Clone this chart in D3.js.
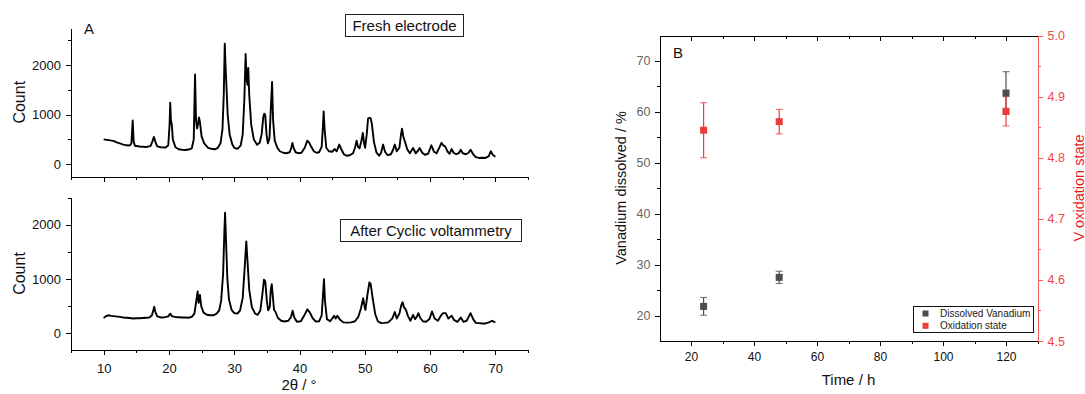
<!DOCTYPE html>
<html><head><meta charset="utf-8">
<script src="https://cdn.jsdelivr.net/npm/d3@7"></script>
<style>
html,body{margin:0;padding:0;background:#fff;}
svg{display:block;font-family:"Liberation Sans",Arial,sans-serif;}
.axis path,.axis line{shape-rendering:crispEdges;}
</style></head><body>
<svg id="c" width="1085" height="394"></svg>
<script>
// ---------- Panel A data: XRD patterns [2θ, count] ----------
const freshPattern = [
[10.0,500],[10.5,490],[11.0,480],[11.5,470],[12.0,440],[12.5,420],[13.0,395],[13.5,380],[14.0,375],[14.25,420],[14.45,880],[14.6,450],[14.8,370],[15.5,355],[16.0,350],[16.5,345],[17.2,370],[17.5,470],[17.7,550],[17.9,460],[18.2,360],[18.8,340],[19.5,335],[19.9,380],[20.1,800],[20.2,1240],[20.3,900],[20.45,780],[20.6,500],[21.0,340],[21.5,300],[22.0,290],[22.5,285],[23.0,295],[23.5,320],[23.8,500],[24.0,1810],[24.15,900],[24.3,720],[24.45,800],[24.6,945],[24.75,850],[25.0,560],[25.4,420],[26.0,330],[26.5,310],[27.0,300],[27.5,330],[27.9,420],[28.2,700],[28.4,1400],[28.55,2435],[28.7,1900],[28.85,1460],[29.0,1000],[29.3,600],[29.7,400],[30.0,330],[30.5,310],[31.0,380],[31.3,600],[31.55,1300],[31.75,2225],[31.9,1700],[32.05,1600],[32.15,1945],[32.3,1400],[32.6,800],[33.0,500],[33.5,390],[33.9,430],[34.2,600],[34.45,950],[34.6,1020],[34.75,990],[34.95,600],[35.15,420],[35.4,520],[35.6,1100],[35.8,1660],[35.95,900],[36.2,480],[36.6,330],[37.0,260],[37.5,230],[38.0,220],[38.5,240],[38.75,330],[38.9,430],[39.1,330],[39.4,240],[39.8,220],[40.3,230],[40.8,330],[41.2,475],[41.5,430],[41.8,350],[42.2,260],[42.6,230],[43.0,240],[43.4,350],[43.6,800],[43.7,1065],[43.85,700],[44.1,330],[44.5,260],[45.0,250],[45.4,305],[45.7,260],[46.1,395],[46.4,300],[46.8,200],[47.2,170],[47.7,180],[48.2,220],[48.5,330],[48.75,475],[48.95,350],[49.2,320],[49.5,480],[49.7,630],[49.9,420],[50.05,330],[50.3,600],[50.5,920],[50.7,935],[50.9,930],[51.1,800],[51.4,450],[51.8,230],[52.2,170],[52.5,230],[52.8,395],[53.1,250],[53.5,180],[54.0,200],[54.3,280],[54.6,395],[54.9,260],[55.3,330],[55.55,600],[55.7,715],[55.9,560],[56.2,430],[56.5,300],[56.9,220],[57.4,325],[57.8,220],[58.1,260],[58.4,325],[58.8,230],[59.2,190],[59.7,210],[60.2,380],[60.6,250],[61.0,220],[61.4,330],[61.75,430],[62.0,380],[62.3,360],[62.7,250],[63.0,210],[63.3,305],[63.6,230],[64.0,200],[64.4,220],[64.7,290],[65.0,220],[65.5,200],[65.9,230],[66.2,290],[66.6,200],[67.0,140],[67.5,125],[68.0,130],[68.5,125],[69.0,160],[69.3,260],[69.6,190],[70.0,150]
];
const afterCVPattern = [
[10.0,280],[10.3,310],[10.7,330],[11.2,320],[11.8,310],[12.5,300],[13.0,290],[13.5,285],[14.0,280],[14.5,270],[15.0,275],[15.5,275],[16.0,280],[16.5,285],[17.0,290],[17.4,330],[17.6,420],[17.75,490],[17.9,400],[18.2,310],[18.8,290],[19.4,295],[19.9,310],[20.2,360],[20.5,310],[21.0,300],[21.5,295],[22.0,290],[22.5,290],[23.0,285],[23.5,300],[23.9,360],[24.2,600],[24.4,770],[24.55,560],[24.75,705],[24.95,500],[25.3,380],[25.8,340],[26.3,330],[26.8,330],[27.3,360],[27.7,420],[28.0,600],[28.3,1100],[28.5,1900],[28.6,2220],[28.75,1700],[28.95,1000],[29.2,620],[29.6,430],[30.0,370],[30.5,360],[30.9,420],[31.3,650],[31.6,1200],[31.85,1690],[32.05,1300],[32.3,800],[32.7,480],[33.2,360],[33.6,340],[34.0,420],[34.3,700],[34.55,985],[34.75,960],[35.0,600],[35.2,420],[35.45,480],[35.6,800],[35.75,905],[35.9,700],[36.1,430],[36.3,400],[36.7,280],[37.2,230],[37.7,215],[38.3,230],[38.7,300],[38.95,415],[39.2,290],[39.6,210],[40.2,220],[40.7,320],[41.2,440],[41.6,380],[42.0,280],[42.5,215],[43.0,220],[43.4,330],[43.65,800],[43.75,995],[43.9,600],[44.2,260],[44.7,220],[45.3,320],[45.55,270],[45.8,320],[46.2,250],[46.7,200],[47.3,195],[47.9,200],[48.5,220],[49.0,300],[49.4,450],[49.75,645],[50.0,470],[50.1,430],[50.4,700],[50.7,935],[50.9,910],[51.2,650],[51.6,350],[52.0,220],[52.5,185],[53.0,190],[53.6,200],[54.2,270],[54.6,390],[54.9,270],[55.3,360],[55.6,520],[55.8,570],[56.0,480],[56.3,430],[56.6,320],[57.0,230],[57.4,337],[57.7,260],[58.0,310],[58.2,370],[58.5,280],[58.9,220],[59.4,210],[59.9,260],[60.3,400],[60.7,270],[61.2,230],[61.7,330],[62.0,370],[62.4,370],[62.8,270],[63.3,320],[63.7,240],[64.2,210],[64.7,290],[65.1,210],[65.6,230],[66.2,370],[66.6,260],[67.0,190],[67.5,185],[68.0,180],[68.5,180],[69.0,200],[69.5,230],[69.8,210],[70.0,200]
];
const xA_major = [10,20,30,40,50,60,70];
const xA_minor = [5,15,25,35,45,55,65,75];
const yA_major = [0,1000,2000];
const yA_minor = [500,1500,2500];
const panelATitles = ["Fresh electrode","After Cyclic voltammetry"];

// ---------- Panel B data ----------
const timesH = [24, 48, 120];
const dissolvedV = [21.8, 27.5, 63.7];
const dissolvedErr = [1.75, 1.2, 4.2];
const oxState = [4.845, 4.859, 4.876];
const oxErr = [0.045, 0.02, 0.024];
const xB_major = [20,40,60,80,100,120];
const xB_minor = [30,50,70,90,110,130];
const yL_major = [20,30,40,50,60,70];
const yL_minor = [25,35,45,55,65];
const yR_major = [4.5,4.6,4.7,4.8,4.9,5.0];
const yR_minor = [4.55,4.65,4.75,4.85,4.95];
const legendLabels = ["Dissolved Vanadium","Oxidation state"];

const svg = d3.select("#c");
const GREY = "#4d4d4d", RED = "#ef3a3a";

function styleAxis(g, color, fontSize, textColor){
  g.attr("class","axis");
  g.select(".domain").attr("stroke", color).attr("stroke-width",1);
  g.selectAll(".tick line").attr("stroke", color);
  g.selectAll(".tick text").attr("fill", textColor||color).attr("font-size", fontSize)
    .attr("font-family","'Liberation Sans',Arial,sans-serif");
}

// ---------- Panel A ----------
const xA = d3.scaleLinear().domain([5,75]).range([71,528]);
const yTop = d3.scaleLinear().domain([-250,2750]).range([176.5,28]);
const yBot = d3.scaleLinear().domain([-300,2500]).range([349.5,197.5]);

function drawXRD(yS, data, showXLabels, title, box){
  const xb = yS.range()[0];
  styleAxis(svg.append("g").attr("transform",`translate(0,${xb})`)
    .call(d3.axisBottom(xA).tickValues(xA_minor).tickSize(3).tickSizeOuter(0).tickFormat("")), "#000", 13);
  const gx = svg.append("g").attr("transform",`translate(0,${xb})`)
    .call(d3.axisBottom(xA).tickValues(xA_major).tickSize(5).tickSizeOuter(0).tickPadding(9)
      .tickFormat(showXLabels ? d3.format("d") : ""));
  styleAxis(gx, "#000", 13, "#111");
  styleAxis(svg.append("g").attr("transform","translate(71,0)")
    .call(d3.axisLeft(yS).tickValues(yA_minor).tickSize(3).tickSizeOuter(0).tickFormat("")), "#000", 13);
  styleAxis(svg.append("g").attr("transform","translate(71,0)")
    .call(d3.axisLeft(yS).tickValues(yA_major).tickSize(5).tickSizeOuter(0).tickPadding(5).tickFormat(d3.format("d"))), "#000", 13, "#111");
  svg.append("path").datum(data)
    .attr("fill","none").attr("stroke","#000").attr("stroke-width",1.9).attr("stroke-linejoin","round")
    .attr("d", d3.line().x(d=>xA(d[0])).y(d=>yS(d[1])));
  svg.append("rect").attr("x",box[0]).attr("y",box[1]).attr("width",box[2]).attr("height",box[3])
    .attr("fill","#fff").attr("stroke","#222").attr("stroke-width",1);
  svg.append("text").attr("x",box[0]+box[2]/2).attr("y",box[1]+box[3]/2+5.5)
    .attr("text-anchor","middle").attr("font-size",15).attr("fill","#111").text(title);
  const yc = (yS.range()[0]+yS.range()[1])/2;
  svg.append("text").attr("transform",`translate(25,${yc}) rotate(-90)`)
    .attr("text-anchor","middle").attr("font-size",16).attr("fill","#111").text("Count");
}
drawXRD(yTop, freshPattern, false, panelATitles[0], [345.5,14.5,118,22]);
drawXRD(yBot, afterCVPattern, true, panelATitles[1], [340.5,219.5,181,22]);
svg.append("text").attr("x",84).attr("y",34).attr("font-size",15).attr("fill","#111").text("A");
svg.append("text").attr("x",299).attr("y",389.5).attr("text-anchor","middle").attr("font-size",15).attr("fill","#111").text("2θ / °");

// ---------- Panel B ----------
const xB = d3.scaleLinear().domain([10,130]).range([659.5,1037.5]);
const yL = d3.scaleLinear().domain([15,75]).range([341,35.5]);
const yR = d3.scaleLinear().domain([4.5,5.0]).range([341,35.5]);

styleAxis(svg.append("g").attr("transform","translate(0,341)")
  .call(d3.axisBottom(xB).tickValues(xB_minor).tickSize(3).tickSizeOuter(0).tickFormat("")), "#000", 12);
styleAxis(svg.append("g").attr("transform","translate(0,341)")
  .call(d3.axisBottom(xB).tickValues(xB_major).tickSize(5).tickSizeOuter(0).tickPadding(6).tickFormat(d3.format("d"))), "#000", 12, "#111");
styleAxis(svg.append("g").attr("transform","translate(0,35.5)")
  .call(d3.axisBottom(xB).tickValues(xB_minor).tickSize(3).tickSizeOuter(0).tickFormat("")), "#000", 12);
styleAxis(svg.append("g").attr("transform","translate(0,35.5)")
  .call(d3.axisBottom(xB).tickValues(xB_major).tickSize(5).tickSizeOuter(0).tickFormat("")), "#000", 12);
styleAxis(svg.append("g").attr("transform","translate(659.5,0)")
  .call(d3.axisLeft(yL).tickValues(yL_minor).tickSize(3).tickSizeOuter(0).tickFormat("")), "#000", 12);
styleAxis(svg.append("g").attr("transform","translate(659.5,0)")
  .call(d3.axisLeft(yL).tickValues(yL_major).tickSize(5).tickSizeOuter(0).tickPadding(4).tickFormat(d3.format("d"))), "#000", 12.5, "#666");
styleAxis(svg.append("g").attr("transform","translate(1037.5,0)")
  .call(d3.axisRight(yR).tickValues(yR_minor).tickSize(3).tickSizeOuter(0).tickFormat("")), "#f25a5a", 12);
styleAxis(svg.append("g").attr("transform","translate(1037.5,0)")
  .call(d3.axisRight(yR).tickValues(yR_major).tickSize(5).tickSizeOuter(0).tickPadding(5).tickFormat(d3.format(".1f"))), "#f25a5a", 12.5, "#f04848");

function errBars(ys, vals, errs, color){
  const g = svg.append("g");
  timesH.forEach((t,i)=>{
    const x = xB(t), y1 = ys(vals[i]-errs[i]), y2 = ys(vals[i]+errs[i]);
    g.append("line").attr("x1",x).attr("x2",x).attr("y1",y1).attr("y2",y2).attr("stroke",color).attr("stroke-width",1.2);
    [y1,y2].forEach(yy=>g.append("line").attr("x1",x-3.5).attr("x2",x+3.5).attr("y1",yy).attr("y2",yy)
      .attr("stroke",color).attr("stroke-width",1.2).attr("stroke-opacity",0.7));
  });
}
function markers(ys, vals, color){
  svg.append("g").selectAll("rect").data(timesH).join("rect")
    .attr("x",(t)=>xB(t)-3.5).attr("y",(t,i)=>ys(vals[i])-3.5).attr("width",7).attr("height",7).attr("fill",color);
}
errBars(yL, dissolvedV, dissolvedErr, GREY);
errBars(yR, oxState, oxErr, RED);
markers(yL, dissolvedV, GREY);
markers(yR, oxState, RED);

svg.append("text").attr("x",673).attr("y",58).attr("font-size",15).attr("fill","#111").text("B");
svg.append("text").attr("x",848.5).attr("y",385).attr("text-anchor","middle").attr("font-size",15).attr("fill","#111").text("Time / h");
svg.append("text").attr("transform","translate(626,188) rotate(-90)").attr("text-anchor","middle")
  .attr("font-size",14.5).attr("fill","#111").text("Vanadium dissolved / %");
svg.append("text").attr("transform","translate(1083.5,188) rotate(-90)").attr("text-anchor","middle")
  .attr("font-size",14.5).attr("fill","#e81c1c").text("V oxidation state");

const lg = svg.append("g");
lg.append("rect").attr("x",913.5).attr("y",306.5).attr("width",120).attr("height",26)
  .attr("fill","#fff").attr("stroke","#111").attr("stroke-width",1);
[GREY, RED].forEach((c,i)=>{
  lg.append("rect").attr("x",922.5).attr("y",310.5+i*12.3).attr("width",6).attr("height",6).attr("fill",c);
  lg.append("text").attr("x",940).attr("y",317+i*12.3).attr("font-size",10).attr("fill","#222").text(legendLabels[i]);
});
</script>
</body></html>
